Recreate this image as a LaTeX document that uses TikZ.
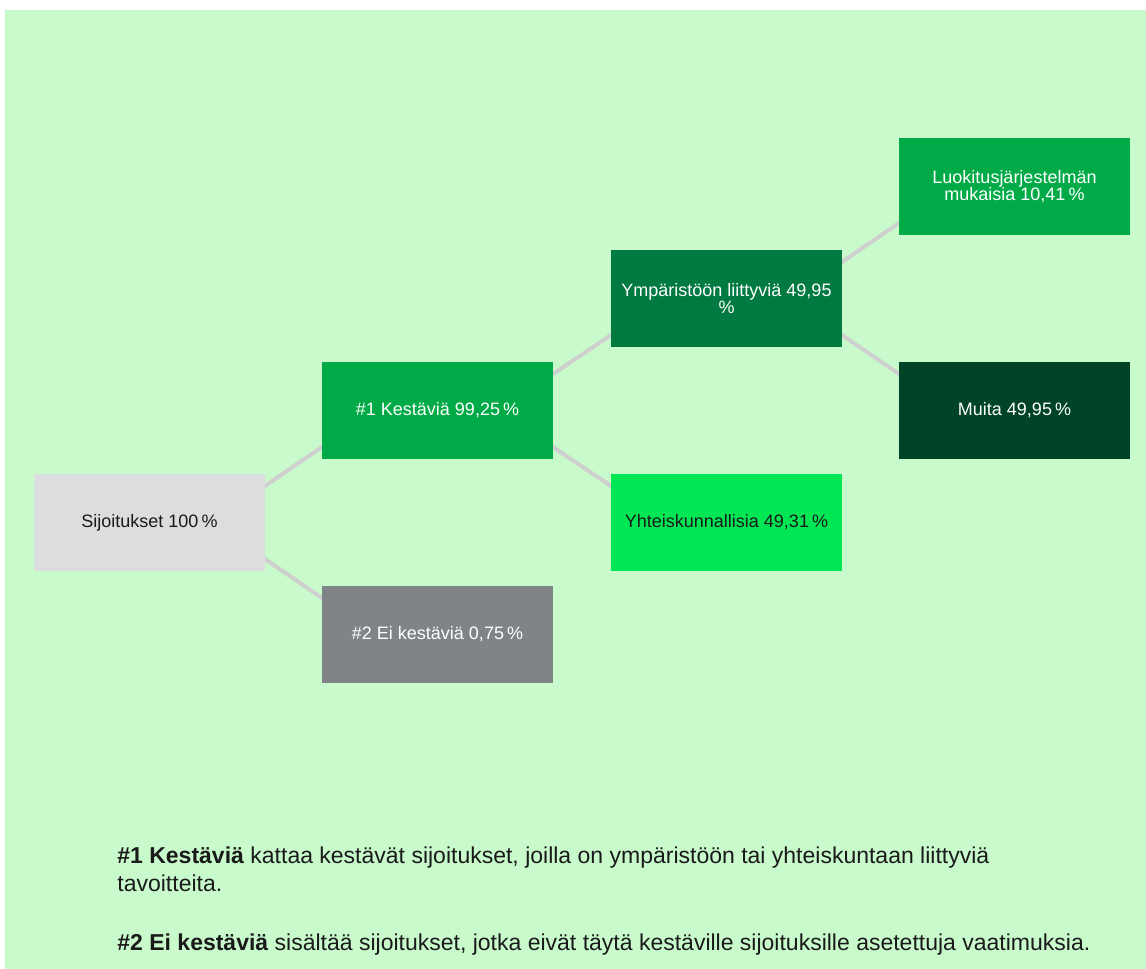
\documentclass[tikz,border=0pt]{standalone}
\usepackage{fontspec}
\setmainfont{Liberation Sans}
\usetikzlibrary{calc}
\definecolor{bggreen}{RGB}{200,250,204}
\definecolor{boxlight}{RGB}{220,221,223}
\definecolor{boxmid}{RGB}{0,171,71}
\definecolor{boxgray}{RGB}{128,132,136}
\definecolor{boxdark}{RGB}{0,122,64}
\definecolor{boxbright}{RGB}{0,231,85}
\definecolor{boxdeep}{RGB}{0,68,40}
\definecolor{linkgray}{RGB}{207,207,207}
\definecolor{txt}{RGB}{26,26,26}
\pgfdeclarelayer{bglayer}
\pgfdeclarelayer{linklayer}
\pgfsetlayers{bglayer,linklayer,main}
\tikzset{
  box/.style={rectangle, minimum width=115.5pt, minimum height=48.5pt, inner sep=0pt, outer sep=0pt, align=center, font=\fontsize{9pt}{8.4pt}\selectfont},
  whitetext/.style={box, text=white},
  darktext/.style={box, text=txt},
  link/.style={draw=linkgray, line width=2pt},
  para/.style={anchor=base west, inner sep=0pt, text=txt, font=\fontsize{11.5pt}{14pt}\selectfont}
}
\begin{document}
\begin{tikzpicture}[x=0.5pt,y=-0.5pt]
\useasboundingbox (0,0) rectangle (1146,969);
\begin{pgfonlayer}{bglayer}
\fill[white] (0,0) rectangle (1146,969);
\fill[bggreen] (5,10) rectangle (1146,969);
\end{pgfonlayer}
\node[darktext, fill=boxlight] (s) at (149.5,522.5) {Sijoitukset 100\,\%};
\node[whitetext, fill=boxmid] (k1) at (437.5,410.5) {\#1 Kestäviä 99,25\,\%};
\node[whitetext, fill=boxgray] (k2) at (437.5,634.5) {\#2 Ei kestäviä 0,75\,\%};
\node[whitetext, fill=boxdark] (ymp) at (726.5,298.5) {Ympäristöön liittyviä 49,95\\\%};
\node[darktext, fill=boxbright] (yht) at (726.5,522.5) {Yhteiskunnallisia 49,31\,\%};
\node[whitetext, fill=boxmid] (luo) at (1014.5,186.5) {Luokitusjärjestelmän\\mukaisia 10,41\,\%};
\node[whitetext, fill=boxdeep] (mui) at (1014.5,410.5) {Muita 49,95\,\%};
\begin{pgfonlayer}{linklayer}
\draw[link] ($(s.north east)+(-3,14)$) -- ($(k1.south west)+(3,-14)$);
\draw[link] ($(s.south east)+(-3,-14)$) -- ($(k2.north west)+(3,14)$);
\draw[link] ($(k1.north east)+(-3,14)$) -- ($(ymp.south west)+(3,-14)$);
\draw[link] ($(k1.south east)+(-3,-14)$) -- ($(yht.north west)+(3,14)$);
\draw[link] ($(ymp.north east)+(-3,14)$) -- ($(luo.south west)+(3,-14)$);
\draw[link] ($(ymp.south east)+(-3,-14)$) -- ($(mui.north west)+(3,14)$);
\end{pgfonlayer}
\node[para] (p1a) at (117,863) {\textbf{\#1 Kestäviä} kattaa kestävät sijoitukset, joilla on ympäristöön tai yhteiskuntaan liittyviä};
\node[para] (p1b) at (117,891) {tavoitteita.};
\node[para] (p2) at (117,950) {\textbf{\#2 Ei kestäviä} sisältää sijoitukset, jotka eivät täytä kestäville sijoituksille asetettuja vaatimuksia.};
\end{tikzpicture}
\end{document}
